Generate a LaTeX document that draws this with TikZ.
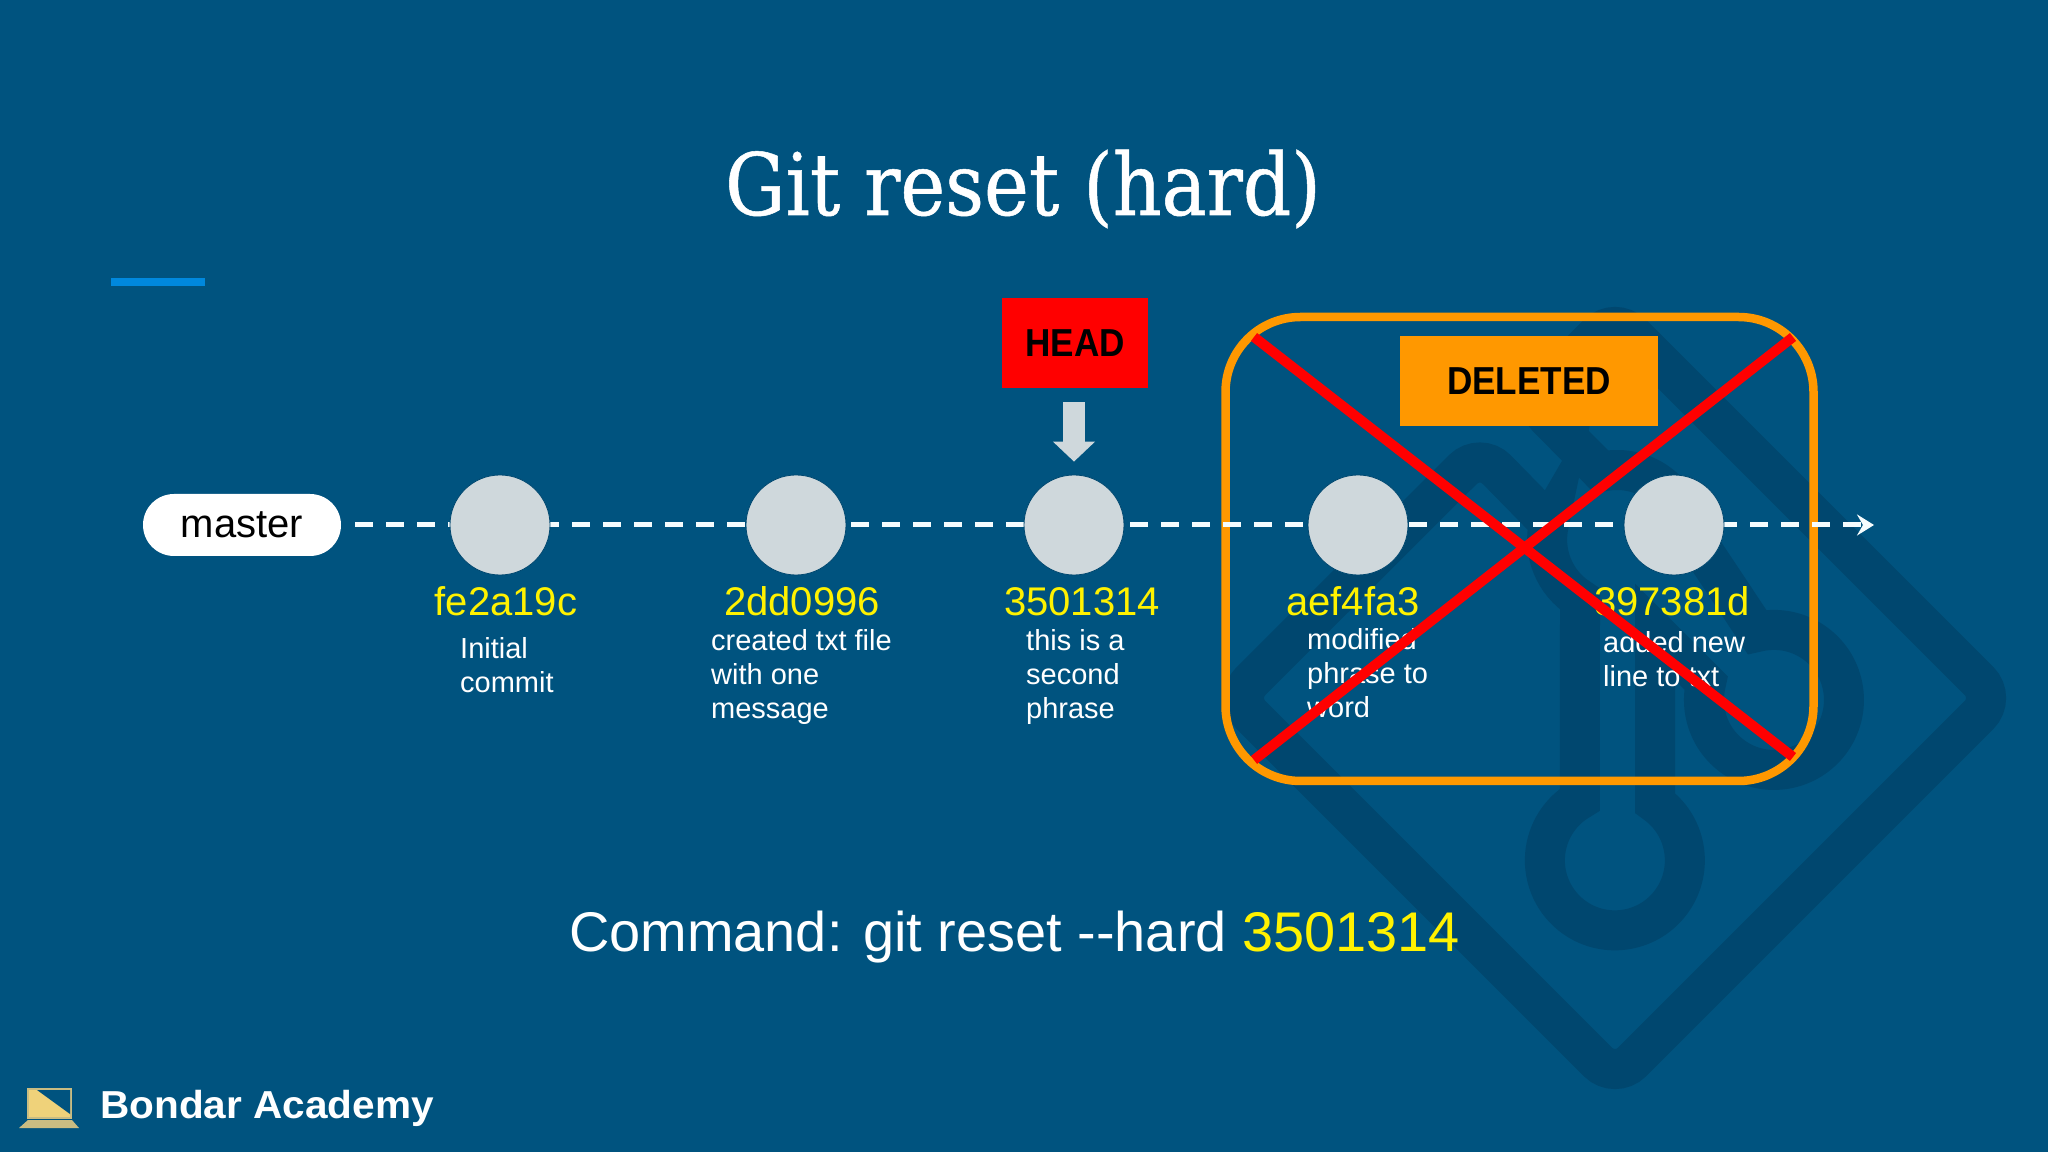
\documentclass[tikz,border=0pt]{standalone}
\usepackage{fontspec}
\usepackage{amsmath,amssymb}
\usetikzlibrary{arrows.meta}
\setmainfont{Liberation Sans}
\newfontfamily\titlefont[FakeStretch=0.88,FakeBold=0.6]{DejaVu Serif}
\newfontfamily\boxfont[FakeStretch=0.9]{Liberation Sans Bold}
\newfontfamily\brandfont[FakeStretch=1.04]{Liberation Sans Bold}
\definecolor{slidebg}{HTML}{00537F}
\definecolor{logoshade}{HTML}{00476F}
\definecolor{accentbar}{HTML}{0088DD}
\definecolor{frameorange}{HTML}{FF9800}
\definecolor{commitgrey}{HTML}{CFD8DC}
\definecolor{icongold}{HTML}{EFD27A}
\definecolor{iconbase}{HTML}{C9BC82}
\tikzset{
  commit/.style={circle,fill=commitgrey,draw=logoshade,line width=0.8pt,minimum size=100pt,inner sep=0pt},
  hash/.style={anchor=base,text=yellow,inner sep=0pt,font=\fontsize{40}{40}\selectfont},
  msg/.style={anchor=base west,align=left,text=white,inner sep=0pt,font=\fontsize{29}{34.3}\selectfont},
  tagbox/.style={rectangle,inner sep=0pt,text=black,font=\boxfont\fontsize{39}{39}\selectfont}
}
\begin{document}
\begin{tikzpicture}[x=1pt,y=1pt]
\useasboundingbox (0,0) rectangle (2048,1152);
\fill [slidebg] (0,0) rectangle (2048,1152);

% logo behind everything
\draw [logoshade,line width=40pt] (1549,629) [rounded corners=24pt] --(1480,699.5)--(1234,454)--(1615,73)--(1996,454)--(1615,835)--(1531,751)
  [sharp corners] --(1601.3,680.2) arc[start angle=103,end angle=13,radius=70] --(1757,520)
  arc[start angle=104,end angle=-194,radius=70] --(1655,520)--(1655,349)
  arc[start angle=55,end angle=-240,radius=70] --(1580,553)
  arc[start angle=238,end angle=166,radius=70] --cycle;

\fill [accentbar] (111,866) rectangle (205,874);
\draw (1023,937) node (title) [anchor=base,text=white,inner sep=0pt,font=\titlefont\fontsize{86}{86}\selectfont]{Git reset (hard)};

\draw [frameorange,line width=8.5pt,rounded corners=75pt] (1225.5,371) rectangle (1813.5,835);
\draw (1529,771) node (deleted) [tagbox,fill=frameorange,minimum width=258pt,minimum height=90pt]{DELETED};
\draw (1075,809) node (head) [tagbox,fill=red,minimum width=146pt,minimum height=90pt]{HEAD};

\draw (242,627) node (master) [rectangle,rounded corners=31pt,fill=white,text=black,minimum width=198pt,minimum height=62pt,inner sep=0pt,font=\fontsize{40}{40}\selectfont]{master};
\coordinate (tip) at (1874,627);

\draw [white!96!cyan,line width=5pt,dash pattern=on 18pt off 13pt,shorten <=14pt,-{Stealth[length=17pt,width=21pt,inset=6pt]}] (master.east)--(tip);

\draw (500,627) node (c1) [commit]{};
\draw (796,627) node (c2) [commit]{};
\draw (1074,627) node (c3) [commit]{};
\draw (1358,627) node (c4) [commit]{};
\draw (1674,627) node (c5) [commit]{};

\draw [commitgrey,line width=22pt,shorten <=14pt,shorten >=13pt,-{Triangle[length=20pt,width=41pt]}] (c3.north |- head.south)--(c3.north);

\draw (506,536) node (h1) [hash]{fe2a19c};
\draw (802,536) node (h2) [hash]{2dd0996};
\draw (1082,536) node (h3) [hash]{3501314};
\draw (1353,536) node (h4) [hash]{aef4fa3};
\draw (1672,536) node (h5) [hash]{397381d};

\draw (460,459) node (m1) [msg]{Initial\\commit};
\draw (711,433) node (m2) [msg]{created txt file\\with one\\message};
\draw (1026,433) node (m3) [msg]{this is a\\second\\phrase};
\draw (1307,434) node (m4) [msg]{modified\\phrase to\\word};
\draw (1603,465) node (m5) [msg]{added new\\line to txt};

\coordinate (xtl) at (1254,815);
\coordinate (xbr) at (1793,395);
\coordinate (xbl) at (1254,392);
\coordinate (xtr) at (1793,815);
\draw [red,line width=10pt] (xtl)--(xbr);
\draw [red,line width=10pt] (xbl)--(xtr);

\draw (569,201) node (command) [anchor=base west,inner sep=0pt,text=white,font=\fontsize{55.9}{55.9}\selectfont]{Command: git reset -{}-hard \textcolor{yellow}{3501314}};

% laptop icon
\draw [iconbase,line width=1.5pt,fill=icongold] (28,34) rectangle (71,63);
\fill [slidebg] (37,62) -- (70,62) -- (70,38) -- cycle;
\fill [iconbase] (28,32) -- (72,32) -- (79,24) -- (19,24) -- cycle;
\draw (100,1152-1118) node (brand) [anchor=base west,inner sep=0pt,text=white,font=\brandfont\fontsize{39}{39}\selectfont]{Bondar Academy};
\end{tikzpicture}
\end{document}
